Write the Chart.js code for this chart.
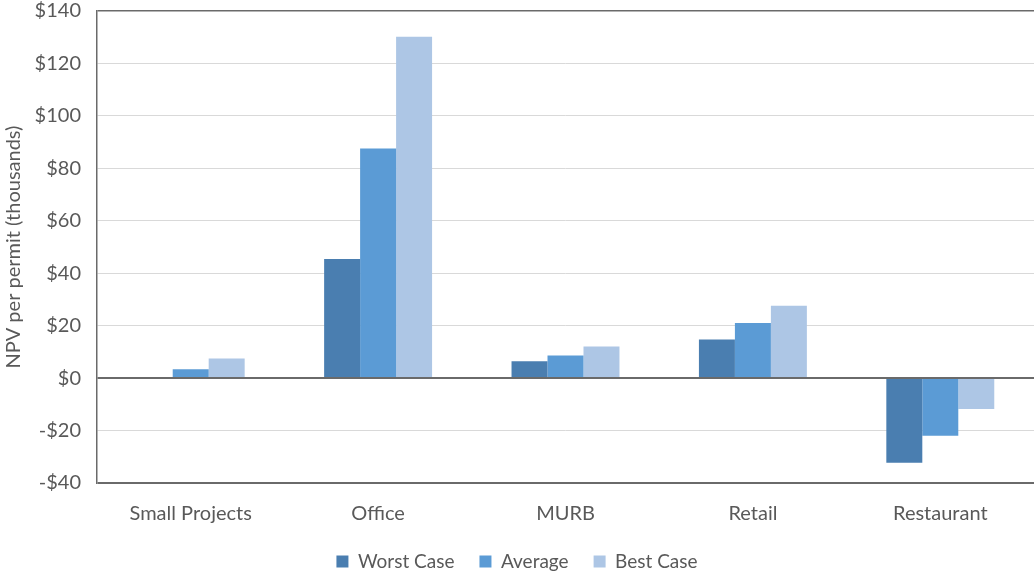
<!DOCTYPE html>
<html>
<head>
<meta charset="utf-8">
<script src="https://cdn.jsdelivr.net/npm/chart.js@4/dist/chart.umd.min.js"></script>
<style>
    html, body { margin: 0; padding: 0; background: #fff; }
    #wrap { width: 1034px; height: 576px; }
</style>
</head>
<body>
<div id="wrap"><canvas id="npv_chart"></canvas></div>
<script>
// values, in thousands of dollars
const categories = ['Small Projects', 'Office', 'MURB', 'Retail', 'Restaurant'];
const worstCase = [null, 45.4, 6.4, 14.7, -32.3];
const average = [3.4, 87.6, 8.6, 21.0, -22.0];
const bestCase = [7.5, 130.2, 12.1, 27.6, -11.8];
const yTicks = [-40, -20, 0, 20, 40, 60, 80, 100, 120, 140];

const grey = '#595959';
const fontFamily = 'Lato, "Open Sans", sans-serif';

let canvas = document.querySelector('#npv_chart');

let chartData = {
    labels: categories,
    datasets: [
        { label: 'Worst Case', data: worstCase, backgroundColor: '#4a7eb0' },
        { label: 'Average', data: average, backgroundColor: '#5b9bd5' },
        { label: 'Best Case', data: bestCase, backgroundColor: '#adc6e5' }
    ]
};

let chartOptions = {
    responsive: true,
    maintainAspectRatio: false,
    animation: false,
    layout: { padding: { top: 11, right: 0, left: 0, bottom: 0 } },
    datasets: {
        bar: { categoryPercentage: 0.576, barPercentage: 1.0 }
    },
    scales: {
        x: {
            grid: { display: false, drawTicks: false },
            border: { display: false },
            ticks: { color: grey, font: { family: fontFamily, size: 20 }, padding: 19 },
            afterFit: (scale) => { scale.height = 44; }
        },
        y: {
            min: -40,
            max: 140,
            afterBuildTicks: (scale) => { scale.ticks = yTicks.map(v => ({ value: v })); },
            grid: {
                drawTicks: false,
                color: (ctx) => {
                    let v = ctx.tick && ctx.tick.value;
                    return (v === 0 || v === -40 || v === 140) ? '#6a6a6a' : '#d9d9d9';
                },
                lineWidth: (ctx) => {
                    let v = ctx.tick && ctx.tick.value;
                    if (v === 0 || v === -40) return 2;
                    if (v === 140) return 1.5;
                    return 1;
                }
            },
            border: { display: true, color: '#6a6a6a', width: 1.5 },
            ticks: {
                color: grey,
                font: { family: fontFamily, size: 20 },
                padding: 16,
                callback: (v) => (v < 0 ? '-$' + Math.abs(v) : '$' + v)
            },
            title: {
                display: true,
                text: 'NPV per permit (thousands)',
                color: grey,
                font: { family: fontFamily, size: 20 },
                padding: { top: 2, bottom: 0 }
            },
            afterFit: (scale) => {
                scale.width = 97;
                scale.paddingTop = 0;
                scale.paddingBottom = 0;
            }
        }
    },
    plugins: {
        legend: {
            position: 'bottom',
            maxHeight: 49,
            labels: {
                color: grey,
                font: { family: fontFamily, size: 19 },
                boxWidth: 12,
                boxHeight: 12,
                padding: 25
            }
        },
        tooltip: { enabled: false }
    }
};

new Chart(canvas, {
    type: 'bar',
    data: chartData,
    options: chartOptions
});
</script>
</body>
</html>
